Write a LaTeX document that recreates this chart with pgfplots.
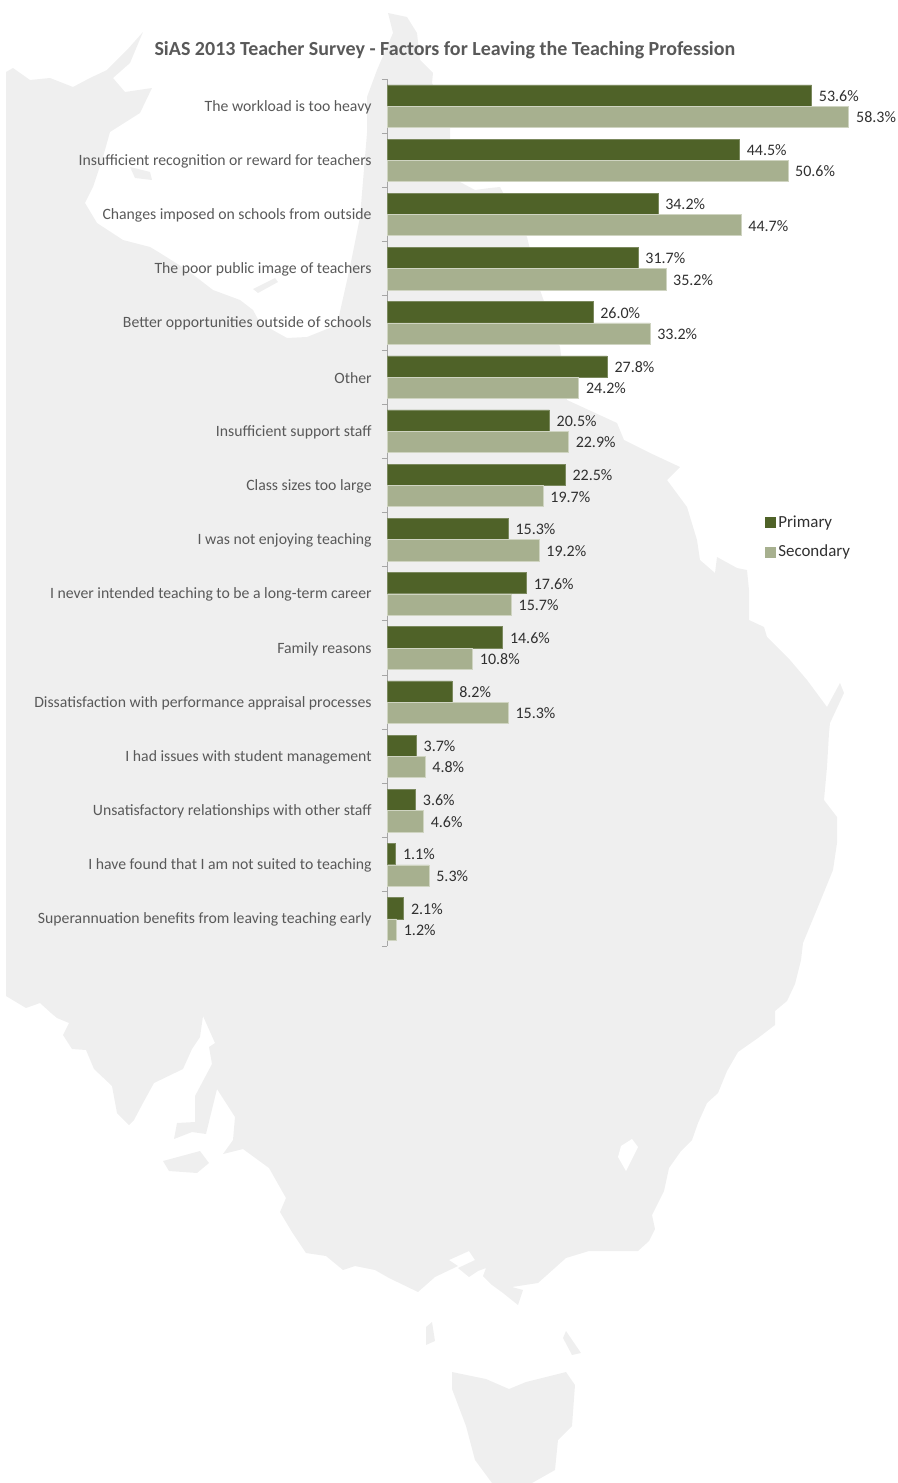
\documentclass[border=0pt]{standalone}
\usepackage{fontspec}
\setmainfont{Carlito}
\usepackage{pgfplots}
\usepackage{pgfplotstable}
\pgfplotsset{compat=1.18}
\definecolor{prim}{HTML}{4F6228}
\definecolor{sec}{HTML}{A7B08F}
\definecolor{mapc}{HTML}{EFEFEF}
\definecolor{lab}{HTML}{595959}
\definecolor{val}{HTML}{303030}
\pgfplotstableread{
idx primary secondary
0 53.6 58.3
1 44.5 50.6
2 34.2 44.7
3 31.7 35.2
4 26.0 33.2
5 27.8 24.2
6 20.5 22.9
7 22.5 19.7
8 15.3 19.2
9 17.6 15.7
10 14.6 10.8
11 8.2 15.3
12 3.7 4.8
13 3.6 4.6
14 1.1 5.3
15 2.1 1.2
}\datatable
\begin{document}
\begin{tikzpicture}[x=0.75pt,y=-0.75pt]
\useasboundingbox (0,0) rectangle (897,1483);
% background map
\fill[mapc] (6,72)--(13,68)--(30,80)--(50,78)--(73,87)--(90,78)--(107,70)--(127,50)--(143,32)--(130,63)--(113,78)--(125,92)--(152,88)--(140,113)--(110,132)--(103,157)--(93,187)--(85,203)--(97,223)--(123,240)--(150,247)--(160,253)--(187,270)--(213,290)--(240,300)--(253,310)--(260,323)--(287,338)--(307,337)--(337,325)--(350,267)--(360,217)--(367,133)--(367,97)--(377,70)--(393,33)--(388,13)--(407,17)--(417,33)--(420,60)--(433,73)--(432,83)--(450,128)--(450,140)--(460,182)--(475,190)--(490,188)--(500,187)--(527,237)--(540,290)--(560,347)--(567,400)--(617,423)--(624,440)--(650,453)--(680,467)--(667,480)--(687,507)--(697,540)--(700,560)--(715,573)--(717,557)--(737,568)--(747,570)--(749,590)--(749,620)--(764,627)--(767,637)--(790,660)--(807,680)--(827,707)--(840,683)--(844,693)--(830,723)--(829,733)--(827,767)--(824,800)--(837,817)--(837,843)--(833,870)--(822,897)--(803,943)--(801,960)--(795,984)--(787,1001)--(775,1011)--(775,1025)--(758,1038)--(738,1052)--(727,1071)--(718,1093)--(707,1103)--(698,1123)--(692,1140)--(681,1151)--(669,1168)--(664,1191)--(652,1215)--(655,1229)--(649,1241)--(638,1251)--(589,1251)--(566,1258)--(538,1283)--(512,1287)--(523,1290)--(518,1305)--(503,1293)--(492,1285)--(483,1276)--(486,1268)--(478,1271)--(469,1277)--(458,1268)--(475,1260)--(469,1251)--(449,1260)--(458,1266)--(435,1277)--(418,1292)--(389,1278)--(375,1270)--(355,1266)--(343,1270)--(326,1256)--(306,1253)--(292,1232)--(280,1212)--(286,1198)--(269,1168)--(243,1149)--(223,1154)--(233,1140)--(235,1117)--(217,1089)--(206,1134)--(192,1132)--(174,1139)--(177,1123)--(195,1122)--(195,1096)--(212,1064)--(209,1047)--(215,1043)--(203,1016)--(200,1037)--(192,1049)--(183,1069)--(154,1083)--(143,1103)--(134,1120)--(129,1125)--(117,1113)--(112,1086)--(94,1069)--(86,1050)--(72,1049)--(63,1035)--(69,1023)--(57,1018)--(51,1013)--(40,1003)--(26,1008)--(6,996)--cycle;
\fill[white] (632,1139)--(638,1147)--(626,1171)--(618,1157)--(621,1146)--cycle;
\fill[mapc] (163,1161)--(200,1151)--(209,1163)--(197,1173)--(169,1171)--cycle;
\fill[mapc] (452,1372)--(486,1379)--(509,1389)--(526,1382)--(566,1372)--(575,1385)--(572,1426)--(558,1440)--(555,1470)--(532,1483)--(492,1483)--(475,1460)--(466,1426)--(452,1389)--cycle;
\fill[mapc] (432,1322)--(435,1341)--(426,1345)--(426,1327)--cycle;
\fill[mapc] (566,1331)--(581,1353)--(572,1355)--(563,1338)--cycle;
\fill[mapc] (130,167)--(150,172)--(152,180)--(135,178)--cycle;
\fill[mapc] (253,289)--(275,278)--(278,282)--(258,293)--cycle;
\begin{axis}[
  at={(290.25pt,-709.5pt)}, anchor=south west,
  scale only axis,
  width=368.3pt, height=650.25pt,
  xmin=0, xmax=62, ymin=-0.5, ymax=15.5,
  y dir=reverse,
  clip=false,
  xbar, bar width=15.9pt,
  axis y line=left, axis x line=none,
  axis line style={-,color=black!35,line width=0.6pt},
  ytick={0,...,15},
  yticklabels={The workload is too heavy,Insufficient recognition or reward for teachers,Changes imposed on schools from outside,The poor public image of teachers,Better opportunities outside of schools,Other,Insufficient support staff,Class sizes too large,I was not enjoying teaching,I never intended teaching to be a long-term career,Family reasons,Dissatisfaction with performance appraisal processes,I had issues with student management,Unsatisfactory relationships with other staff,I have found that I am not suited to teaching,Superannuation benefits from leaving teaching early},
  major tick length=0pt,
  minor ytick={-0.5,0.5,...,15.5},
  minor tick length=3.8pt,
  minor tick style={color=black!35,line width=0.6pt},
  tick align=outside,
  yticklabel style={font=\fontsize{11.8pt}{13pt}\selectfont,text=lab,xshift=-8pt,yshift=-0.7pt},
  title={\textbf{SiAS 2013 Teacher Survey - Factors for Leaving the Teaching Profession}},
  title style={at={(axis description cs:0.118,1.0358)},anchor=center,yshift=-7.5pt,font=\fontsize{15pt}{18pt}\selectfont,text=lab},
  point meta=x,
  nodes near coords={\pgfmathprintnumber[fixed,fixed zerofill,precision=1,assume math mode=true]{\pgfplotspointmeta}\%},
  nodes near coords style={font=\fontsize{12pt}{13pt}\selectfont,text=val,anchor=west,xshift=2pt,yshift=-0.4pt},
  legend cell align=left,
  legend style={draw=none,fill=none,at={(0.77,0.4715)},anchor=west,inner sep=0pt,outer sep=0pt,
    row sep=7.6pt,font=\fontsize{12.7pt}{14pt}\selectfont,text=val},
]
\addplot[fill=prim,draw=prim!75!white,line width=0.4pt,bar shift=8pt,
  legend image code/.code={\fill[prim] (0pt,-3.75pt) rectangle (7.5pt,3.75pt);}]
  table[x=primary,y=idx]{\datatable};
\addplot[fill=sec,draw=sec!55!white,line width=0.4pt,bar shift=-8pt,
  legend image code/.code={\fill[sec] (0pt,-3.75pt) rectangle (7.5pt,3.75pt);}]
  table[x=secondary,y=idx]{\datatable};
\legend{Primary,Secondary}
\end{axis}
\end{tikzpicture}
\end{document}
